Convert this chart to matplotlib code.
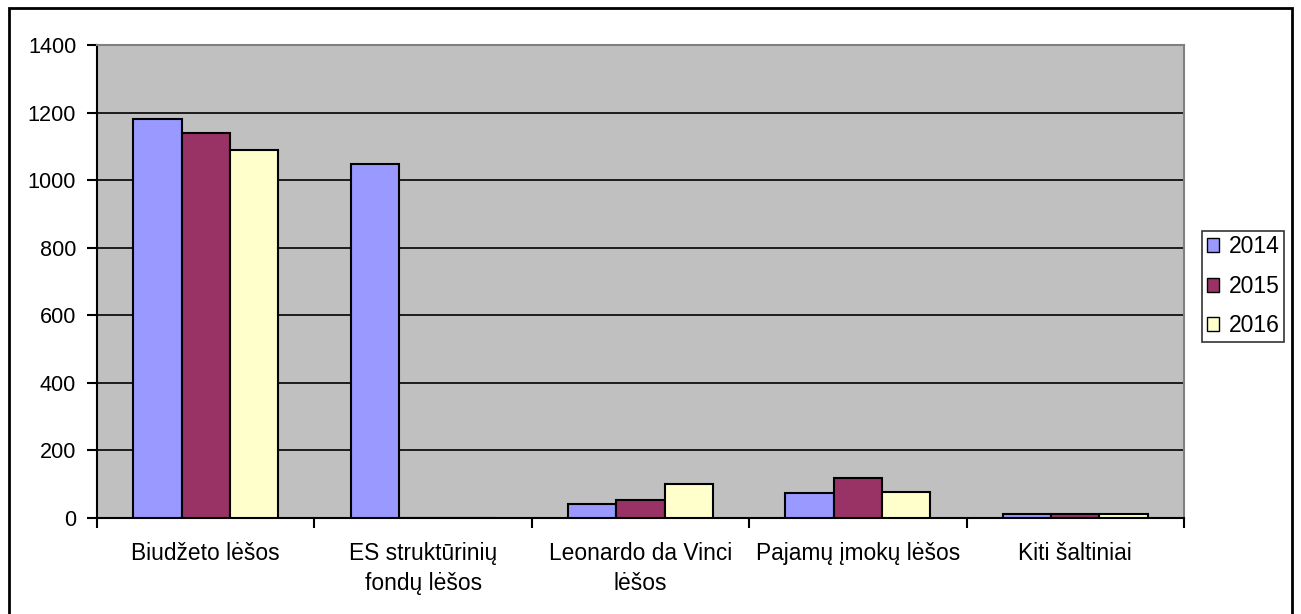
import matplotlib
matplotlib.use("Agg")
import matplotlib.pyplot as plt
from matplotlib.patches import Rectangle
import numpy as np

plt.rcParams['font.family'] = ['Liberation Sans', 'DejaVu Sans']

categories = ["Biudžeto lėšos", "ES struktūrinių\nfondų lėšos", "Leonardo da Vinci\nlėšos",
              "Pajamų įmokų lėšos", "Kiti šaltiniai"]
years = ["2014", "2015", "2016"]
values_2014 = [1180, 1047, 42, 74, 11]
values_2015 = [1140, 0, 52, 119, 11]
values_2016 = [1088, 0, 100, 78, 11]
series = [values_2014, values_2015, values_2016]
colors = ["#9999FF", "#993366", "#FFFFCC"]
yticks = [0, 200, 400, 600, 800, 1000, 1200, 1400]

fig = plt.figure(figsize=(13.01, 6.14), dpi=100)
ax = fig.add_axes([97/1301, 1-518/614, (1184-97)/1301, (518-45)/614])
ax.set_facecolor("#C0C0C0")

x = np.arange(len(categories))
w = 1/4.5
for i, (vals, c, yr) in enumerate(zip(series, colors, years)):
    ax.bar(x + (i-1)*w, vals, width=w, color=c, edgecolor="black", linewidth=1.5, label=yr, zorder=3)

ax.set_xlim(-0.5, len(categories)-0.5)
ax.set_ylim(0, 1400)
ax.set_yticks(yticks)
ax.set_yticklabels([str(v) for v in yticks])
ax.yaxis.grid(True, color="black", linewidth=1.2, zorder=1)
ax.set_axisbelow(True)

ax.set_xticks(x)
ax.set_xticklabels(categories, fontsize=16.4, linespacing=1.35)
ax.set_xticks(np.arange(-0.5, len(categories)), minor=True)
ax.tick_params(axis='x', which='major', length=0, pad=17.5)
ax.tick_params(axis='x', which='minor', length=7, width=1.5, color='black')
ax.tick_params(axis='y', length=7, width=1.5, labelsize=15.6, pad=8)

for s in ['left', 'bottom']:
    ax.spines[s].set_color('black')
    ax.spines[s].set_linewidth(1.5)
for s in ['top', 'right']:
    ax.spines[s].set_color('#808080')
    ax.spines[s].set_linewidth(1.5)

leg = ax.legend(loc='center left', bbox_to_anchor=(1.0165, 0.49), fontsize=16.5, frameon=True,
                fancybox=False, edgecolor='black', handlelength=0.55, handleheight=0.55,
                handletextpad=0.42, borderpad=0.2, labelspacing=0.72, borderaxespad=0)
leg.get_frame().set_linewidth(1.2)
for h in leg.legend_handles:
    h.set_linewidth(1.0)

fig.patches.append(Rectangle((9/1301, -0.02), (1292-9)/1301, 1.02-8/614, transform=fig.transFigure,
                             fill=False, edgecolor='black', linewidth=2))

fig.savefig("out.png", dpi=100)
